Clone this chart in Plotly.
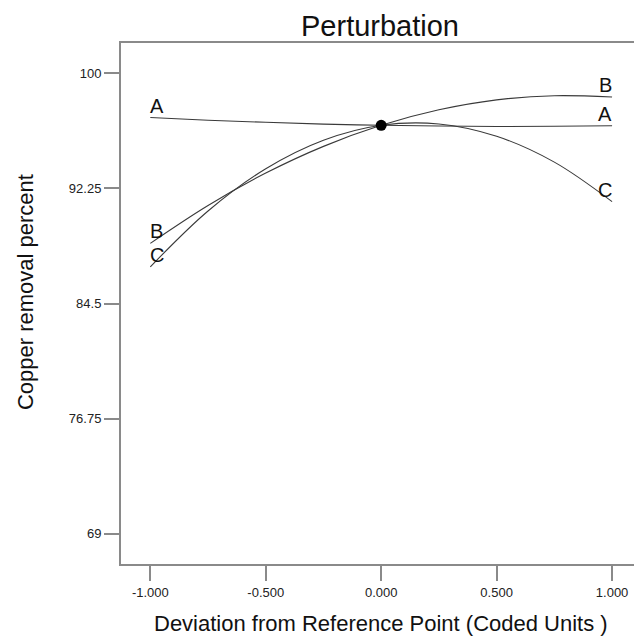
import plotly.graph_objects as go

# Data
deviation = [-1.0, -0.75, -0.5, -0.25, 0.0, 0.25, 0.5, 0.75, 1.0]
curve_A = [97.02, 96.84, 96.70, 96.58, 96.50, 96.45, 96.42, 96.43, 96.47]
curve_B = [88.55, 91.10, 93.28, 95.08, 96.50, 97.54, 98.21, 98.49, 98.40]
curve_C = [86.97, 90.73, 93.57, 95.49, 96.50, 96.59, 95.76, 94.02, 91.36]
series_names = ["A", "B", "C"]
ref_x = [0.0]
ref_y = [96.50]

x_tickvals = [-1.0, -0.5, 0.0, 0.5, 1.0]
x_ticktext = ["-1.000", "-0.500", "0.000", "0.500", "1.000"]
y_tickvals = [69, 76.75, 84.5, 92.25, 100]
y_ticktext = ["69", "76.75", "84.5", "92.25", "100"]

FONT = "Liberation Sans, Arial, sans-serif"
AXC = "#8a8a8a"

fig = go.Figure()
series = [curve_A, curve_B, curve_C]
for name, ys in zip(series_names, series):
    fig.add_trace(go.Scatter(x=deviation, y=ys, mode="lines", name=name,
                             line=dict(color="#3a3a3a", width=1.1, shape="spline"),
                             showlegend=False, hoverinfo="skip"))
fig.add_trace(go.Scatter(x=ref_x, y=ref_y, mode="markers",
                         marker=dict(color="black", size=11), showlegend=False))

# curve labels at both ends
for name, ys in zip(series_names, series):
    fig.add_annotation(x=deviation[0], y=ys[0], text=name, showarrow=False,
                       xanchor="left", yanchor="bottom", xshift=-2, yshift=-1,
                       font=dict(family=FONT, size=20, color="#111"))
    fig.add_annotation(x=deviation[-1], y=ys[-1], text=name, showarrow=False,
                       xanchor="right", yanchor="bottom", xshift=2, yshift=-1,
                       font=dict(family=FONT, size=20, color="#111"))

# axis titles as annotations
fig.add_annotation(xref="paper", yref="paper", x=0.506, y=-0.115,
                   text="Deviation from Reference Point (Coded Units )", showarrow=False,
                   xanchor="center", yanchor="middle",
                   font=dict(family=FONT, size=22, color="#111"))
fig.add_annotation(xref="paper", yref="paper", x=-0.187, y=0.522,
                   text="Copper removal percent", showarrow=False, textangle=-90,
                   xanchor="center", yanchor="middle",
                   font=dict(family=FONT, size=22, color="#111"))

fig.update_layout(
    width=634, height=638,
    margin=dict(l=121, r=0, t=43, b=74),
    paper_bgcolor="white", plot_bgcolor="white",
    title=dict(text="Perturbation", x=380/634, xref="container", xanchor="center",
               y=1 - 26/638, yref="container", yanchor="middle",
               font=dict(family=FONT, size=29, color="#111")),
    xaxis=dict(range=[-1.127, 1.095], tickvals=x_tickvals, ticktext=x_ticktext,
               showgrid=False, zeroline=False, showline=True, linecolor=AXC,
               linewidth=2, mirror=True, ticks="outside", ticklen=15,
               tickwidth=2, tickcolor=AXC,
               tickfont=dict(family=FONT, size=13, color="#222")),
    yaxis=dict(range=[66.96, 102.04], tickvals=y_tickvals, ticktext=y_ticktext,
               showgrid=False, zeroline=False, showline=True, linecolor=AXC,
               linewidth=2, ticks="outside", ticklen=15, tickwidth=2,
               tickcolor=AXC, tickfont=dict(family=FONT, size=13, color="#222")),
)

fig.write_html("out.html", config={"displayModeBar": False},
               post_script="document.body.style.margin='0';document.body.style.overflow='hidden';")
